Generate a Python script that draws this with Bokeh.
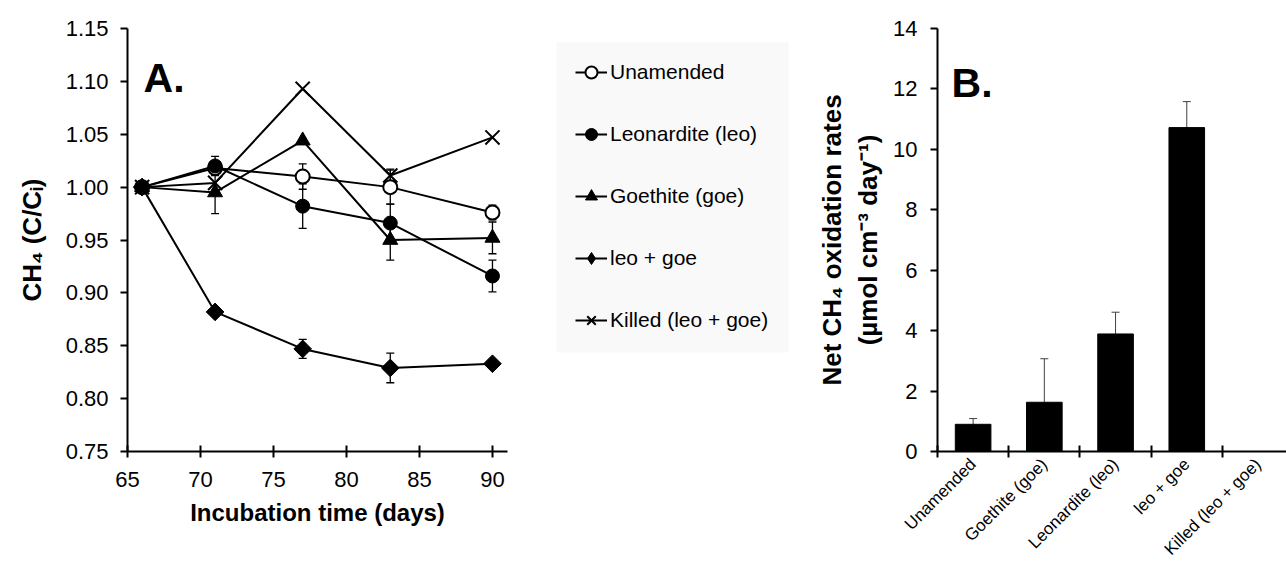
import math
from bokeh.plotting import figure
from bokeh.models import (Range1d, FixedTicker, Whisker, TeeHead, ColumnDataSource,
                          Legend, LegendItem, Label, BoxAnnotation, CustomJSTickFormatter)
from bokeh.layouts import row
from bokeh.embed import file_html
from bokeh.resources import INLINE

FONT = "Liberation Sans"

# ---------------- Panel A data ----------------
days = [66, 71, 77, 83, 90]
unamended = [1.000, 1.018, 1.010, 1.000, 0.976]
unamended_err = [0.0, 0.004, 0.012, 0.016, 0.007]
leonardite = [1.000, 1.020, 0.982, 0.966, 0.916]
leonardite_err = [0.0, 0.009, 0.021, 0.018, 0.015]
goethite = [1.000, 0.995, 1.044, 0.950, 0.952]
goethite_err = [0.0, 0.020, 0.0, 0.019, 0.015]
leo_goe = [1.000, 0.882, 0.847, 0.829, 0.833]
leo_goe_err = [0.0, 0.0, 0.009, 0.014, 0.0]
killed = [1.000, 1.004, 1.093, 1.011, 1.047]
killed_err = [0.0, 0.0, 0.0, 0.006, 0.0]

series_names = ["Unamended", "Leonardite (leo)", "Goethite (goe)", "leo + goe", "Killed (leo + goe)"]
x_ticks_a = [65, 70, 75, 80, 85, 90]
y_ticks_a = [0.75, 0.80, 0.85, 0.90, 0.95, 1.00, 1.05, 1.10, 1.15]

# ---------------- Panel B data ----------------
categories = ["Unamended", "Goethite (goe)", "Leonardite (leo)", "leo + goe", "Killed (leo + goe)"]
rates = [0.90, 1.63, 3.89, 10.72, 0.0]
rates_err = [0.19, 1.44, 0.72, 0.86, 0.0]
y_ticks_b = [0, 2, 4, 6, 8, 10, 12, 14]

styles = [
    dict(marker="circle", legend_marker="circle", size=14, fill_color="white", angle=0.0, lw=2),
    dict(marker="circle", legend_marker="circle", size=14, fill_color="black", angle=0.0, lw=1),
    dict(marker="triangle", legend_marker="triangle", size=15, fill_color="black", angle=0.0, lw=1),
    dict(marker="square", legend_marker="diamond", size=12.5, fill_color="black", angle=math.pi / 4, lw=1),
    dict(marker="x", legend_marker="x", size=20, fill_color="black", angle=0.0, lw=2),
]
all_vals = [unamended, leonardite, goethite, leo_goe, killed]
all_errs = [unamended_err, leonardite_err, goethite_err, leo_goe_err, killed_err]


def style_axis(ax, size="22px"):
    ax.axis_line_width = 2
    ax.axis_line_color = "black"
    ax.major_tick_line_width = 2
    ax.major_tick_line_color = "black"
    ax.minor_tick_line_color = None
    ax.major_label_text_font = FONT
    ax.major_label_text_font_size = size
    ax.major_label_text_color = "black"
    ax.axis_label_text_font = FONT
    ax.axis_label_text_font_style = "bold"
    ax.axis_label_text_color = "black"


# ---------------- Figure A ----------------
pa = figure(width=520, height=568, output_backend="svg", toolbar_location=None,
            x_range=Range1d(65, 91.03), y_range=Range1d(0.75, 1.15),
            min_border_left=127, min_border_right=13, min_border_top=27, min_border_bottom=117)
pa.outline_line_color = None
pa.grid.visible = False

style_axis(pa.xaxis[0])
style_axis(pa.yaxis[0])
pa.xaxis.ticker = FixedTicker(ticks=x_ticks_a)
pa.yaxis.ticker = FixedTicker(ticks=y_ticks_a)
pa.yaxis.formatter = CustomJSTickFormatter(code="return tick.toFixed(2);")
pa.xaxis.major_tick_in = 6
pa.xaxis.major_tick_out = 6
pa.yaxis.major_tick_in = 0
pa.yaxis.major_tick_out = 7
pa.yaxis.major_label_standoff = 12
pa.xaxis.major_label_standoff = 14
pa.xaxis.axis_label = "Incubation time (days)"
pa.xaxis.axis_label_text_font_size = "24px"
pa.xaxis.axis_label_standoff = 9
pa.yaxis.axis_label = "CH\u2084 (C/C\u1d62)"
pa.yaxis.axis_label_text_font_size = "26px"
pa.yaxis.axis_label_standoff = 16

for vals, errs, st in zip(all_vals, all_errs, styles):
    ex = [d for d, e in zip(days, errs) if e > 0]
    ev = [v for v, e in zip(vals, errs) if e > 0]
    ee = [e for e in errs if e > 0]
    if ex:
        src = ColumnDataSource(dict(x=ex, upper=[v + e for v, e in zip(ev, ee)],
                                    lower=[v - e for v, e in zip(ev, ee)]))
        w = Whisker(source=src, base="x", upper="upper", lower="lower", dimension="height",
                    line_color="black", line_width=1.3, level="underlay",
                    upper_head=TeeHead(size=8, line_color="black", line_width=1.3),
                    lower_head=TeeHead(size=8, line_color="black", line_width=1.3))
        pa.add_layout(w)
    pa.line(days, vals, line_color="black", line_width=2)
    pa.scatter(days, vals, marker=st["marker"], size=st["size"], fill_color=st["fill_color"],
               line_color="black", line_width=st["lw"], angle=st["angle"])

pa.add_layout(Label(x=66.1, y=1.1035, text="A.", text_font=FONT, text_font_style="bold",
                    text_font_size="41px", text_color="black", text_baseline="alphabetic"))

# ---------------- Legend figure ----------------
pl = figure(width=280, height=568, output_backend="svg", toolbar_location=None,
            x_range=Range1d(0, 280), y_range=Range1d(0, 423),
            min_border_left=0, min_border_right=0, min_border_top=0, min_border_bottom=0)
pl.axis.visible = False
pl.grid.visible = False
pl.outline_line_color = None
pl.add_layout(BoxAnnotation(left=36, right=268, bottom=99, top=409,
                            fill_color="#f9f9f9", fill_alpha=1.0, line_color=None, level="underlay"))

items = []
for name, st in zip(series_names, styles):
    lr = pl.line([-10, -9], [-10, -10], line_color="black", line_width=2)
    sr = pl.scatter([-10], [-10], marker=st["legend_marker"], size=st["size"], fill_color=st["fill_color"],
                    line_color="black", line_width=st["lw"])
    items.append(LegendItem(label=name, renderers=[lr, sr]))

legend = Legend(items=items, location=(55, 116), background_fill_alpha=0.0,
                border_line_color=None, label_text_font=FONT, label_text_font_size="21px",
                label_text_color="black", glyph_width=32, glyph_height=30, label_height=30,
                spacing=32, padding=0, label_standoff=3, margin=0)
pl.add_layout(legend)

# ---------------- Figure B ----------------
n = len(categories)
centers = [i + 0.5 for i in range(n)]
pb = figure(width=486, height=568, output_backend="svg", toolbar_location=None,
            x_range=Range1d(0, 4.9), y_range=Range1d(0, 14),
            min_border_left=137, min_border_right=0, min_border_top=28, min_border_bottom=117)
pb.outline_line_color = None
pb.grid.visible = False

style_axis(pb.xaxis[0], "17px")
style_axis(pb.yaxis[0])
pb.yaxis.ticker = FixedTicker(ticks=y_ticks_b)
pb.yaxis.major_tick_in = 0
pb.yaxis.major_tick_out = 7
pb.yaxis.major_label_standoff = 13
pb.yaxis.axis_label = "Net CH\u2084 oxidation rates\n(\u00b5mol cm\u207b\u00b3 day\u207b\u00b9)"
pb.yaxis.axis_label_text_font_size = "26px"
pb.yaxis.axis_label_standoff = 7

# category names at bar centres, tick marks at category boundaries (minor ticks)
pb.xaxis.ticker = FixedTicker(ticks=centers, minor_ticks=list(range(n + 1)))
pb.xaxis.major_label_overrides = {c: cat for c, cat in zip(centers, categories)}
pb.xaxis.major_label_orientation = math.pi / 4
pb.xaxis.major_tick_line_color = None
pb.xaxis.major_tick_out = 0
pb.xaxis.major_tick_in = 0
pb.xaxis.major_label_standoff = 4
pb.xaxis.minor_tick_line_color = "black"
pb.xaxis.minor_tick_line_width = 2
pb.xaxis.minor_tick_in = 6
pb.xaxis.minor_tick_out = 6

bsrc = ColumnDataSource(dict(x=centers, top=rates))
pb.vbar(x="x", top="top", width=0.5, source=bsrc, fill_color="black", line_color="black")
wb_src = ColumnDataSource(dict(x=[c for c, e in zip(centers, rates_err) if e > 0],
                               upper=[r + e for r, e in zip(rates, rates_err) if e > 0],
                               lower=[r - e for r, e in zip(rates, rates_err) if e > 0]))
pb.add_layout(Whisker(source=wb_src, base="x", upper="upper", lower="lower", dimension="height",
                      line_color="#404040", line_width=1,
                      upper_head=TeeHead(size=8, line_color="#404040", line_width=1),
                      lower_head=TeeHead(size=8, line_color="#404040", line_width=1)))

pb.add_layout(Label(x=0.197, y=12.21, text="B.", text_font=FONT, text_font_style="bold",
                    text_font_size="41px", text_color="black", text_baseline="alphabetic"))

layout = row(pa, pl, pb)
open("out.html", "w").write(file_html(layout, INLINE))
